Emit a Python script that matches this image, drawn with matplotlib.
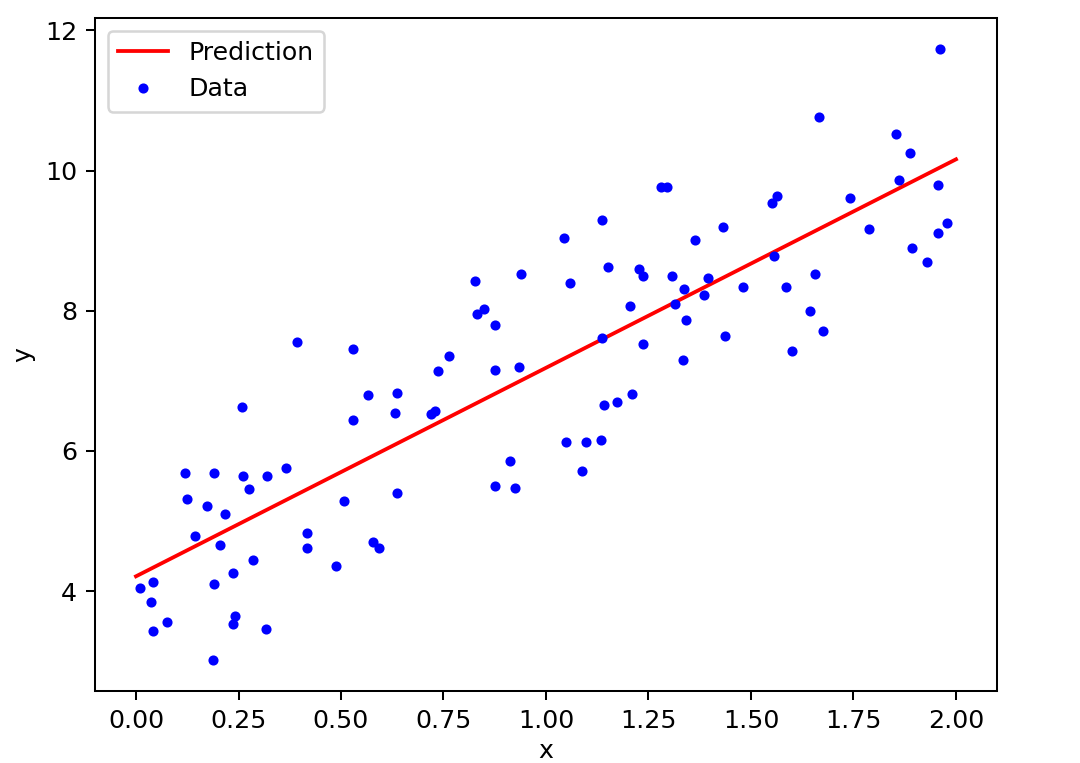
import matplotlib
matplotlib.use("Agg")
import matplotlib.pyplot as plt
import numpy as np

# --- Data --------------------------------------------------------------

x_data = [
    0.010, 0.041, 0.037, 0.041, 0.076, 0.120, 0.124, 0.143, 0.173, 0.191,
    0.191, 0.188, 0.205, 0.218, 0.236, 0.241, 0.236, 0.259, 0.262, 0.276,
    0.285, 0.316, 0.320, 0.365, 0.392, 0.418, 0.418, 0.489, 0.507, 0.529,
    0.530, 0.565, 0.577, 0.592, 0.636, 0.632, 0.636, 0.720, 0.730, 0.737,
    0.764, 0.828, 0.832, 0.850, 0.876, 0.876, 0.876, 0.911, 0.924, 0.934,
    0.938, 1.043, 1.049, 1.058, 1.089, 1.098, 1.133, 1.137, 1.137, 1.142,
    1.151, 1.173, 1.204, 1.210, 1.226, 1.237, 1.237, 1.307, 1.315, 1.333,
    1.337, 1.342, 1.364, 1.280, 1.294, 1.386, 1.396, 1.431, 1.436, 1.480,
    1.551, 1.556, 1.564, 1.586, 1.601, 1.645, 1.657, 1.667, 1.676, 1.742,
    1.787, 1.854, 1.862, 1.889, 1.893, 1.929, 1.955, 1.955, 1.960, 1.977,
]
y_data = [
    4.05, 4.13, 3.84, 3.43, 3.56, 5.69, 5.32, 4.78, 5.22, 5.69,
    4.10, 3.01, 4.65, 5.10, 4.26, 3.64, 3.53, 6.62, 5.64, 5.45,
    4.44, 3.46, 5.64, 5.76, 7.56, 4.83, 4.62, 4.36, 5.29, 7.45,
    6.44, 6.80, 4.70, 4.62, 6.83, 6.54, 5.40, 6.52, 6.57, 7.14,
    7.35, 8.42, 7.95, 8.03, 7.79, 7.16, 5.50, 5.86, 5.47, 7.19,
    8.52, 9.04, 6.13, 8.39, 5.71, 6.13, 6.15, 9.30, 7.61, 6.65,
    8.62, 6.70, 8.07, 6.81, 8.60, 8.49, 7.53, 8.49, 8.10, 7.29,
    8.31, 7.87, 9.01, 9.76, 9.76, 8.23, 8.46, 9.19, 7.64, 8.34,
    9.53, 8.78, 9.64, 8.34, 7.43, 8.00, 8.52, 10.77, 7.71, 9.61,
    9.16, 10.52, 9.86, 10.25, 8.90, 8.70, 9.79, 9.11, 11.74, 9.25,
]

# Prediction line at the two ends of the x range.
x_pred = [0.0, 2.0]
y_pred = [4.21, 10.16]

# --- Plot ---------------------------------------------------------------

dpi = 182
fig = plt.figure(figsize=(1080 / dpi, 763 / dpi), dpi=dpi)
ax = fig.add_axes([95 / 1080, 72 / 763, 902 / 1080, 673 / 763])

ax.plot(x_pred, y_pred, "r-", label="Prediction")
ax.plot(np.array(x_data), np.array(y_data), "b.", label="Data")
ax.set_xlabel("x", labelpad=2.5)
ax.set_ylabel("y")
ax.legend(loc="upper left")

fig.savefig("out.png", dpi=dpi)
